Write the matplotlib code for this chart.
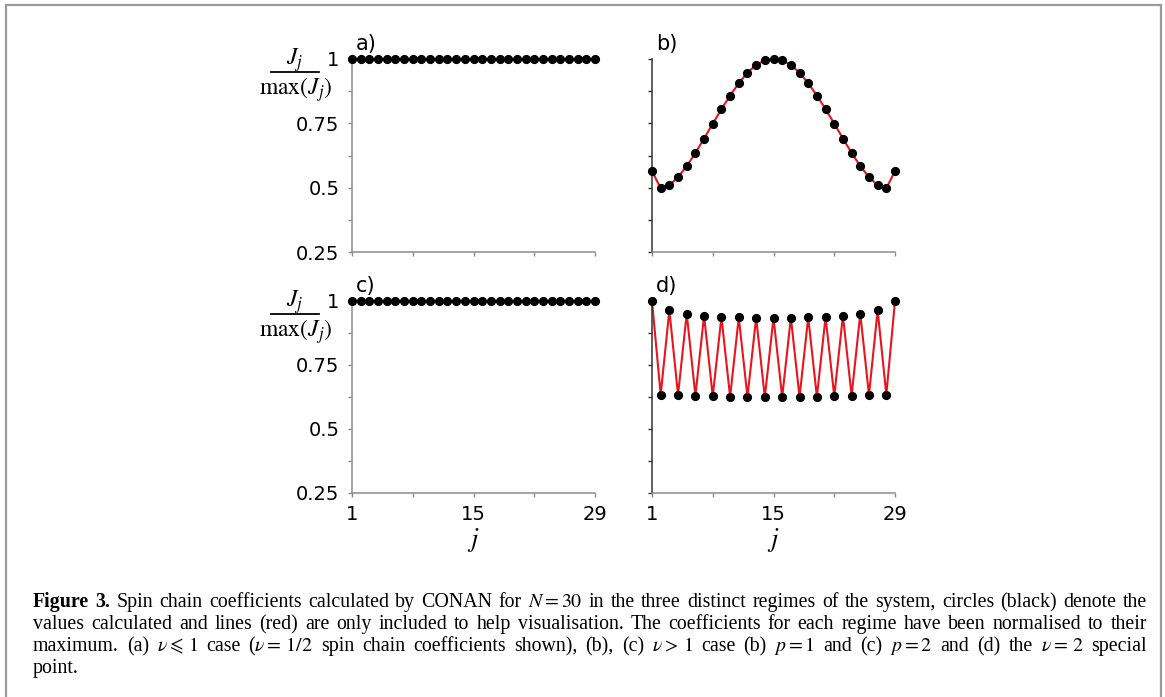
import numpy as np
import matplotlib
matplotlib.use("Agg")
import matplotlib.pyplot as plt
from matplotlib.patches import Rectangle
from matplotlib.lines import Line2D

plt.rcParams['mathtext.fontset'] = 'stix'
plt.rcParams['font.family'] = ['DejaVu Sans']

W, H = 1165, 697
#------------------------------ data
j = np.arange(1, 30)
Ja = [1.0] * 29                                   # nu <= 1 case
Jb = [0.565, 0.497, 0.509, 0.541, 0.584, 0.635, 0.691, 0.749, 0.805, 0.858,
      0.906, 0.947, 0.977, 0.995, 1.0, 0.995, 0.977, 0.947, 0.906, 0.858,
      0.805, 0.749, 0.691, 0.635, 0.584, 0.541, 0.509, 0.497, 0.565]   # p = 1
Jc = [1.0] * 29                                   # p = 2
Jd = [1.0, 0.634, 0.964, 0.633, 0.951, 0.630, 0.943, 0.628, 0.938, 0.626,
      0.936, 0.625, 0.935, 0.624, 0.935, 0.624, 0.935, 0.625, 0.936, 0.626,
      0.938, 0.628, 0.943, 0.630, 0.951, 0.633, 0.964, 0.634, 1.0]     # nu = 2

xticks = [1, 8, 15, 22, 29]
xlabels = ['1', '', '15', '', '29']
yticks = [0.25, 0.5, 0.75, 1]
ylabels = ['0.25', '0.5', '0.75', '1']
yminor = [0.375, 0.625, 0.875]

caption = [
    ["Figure", "3.", "Spin", "chain", "coefficients", "calculated", "by", "CONAN", "for",
     r"$N=30$", "in", "the", "three", "distinct", "regimes", "of", "the", "system,",
     "circles", "(black)", "denote", "the"],
    ["values", "calculated", "and", "lines", "(red)", "are", "only", "included", "to", "help",
     "visualisation.", "The", "coefficients", "for", "each", "regime", "have", "been",
     "normalised", "to", "their"],
    ["maximum.", "(a)", r"$\nu\leqslant\,1$", "case", r"($\nu=\,1/2$", "spin", "chain",
     "coefficients", "shown),", "(b),", "(c)", r"$\nu>\,1$", "case", "(b)", r"$p=1$", "and",
     "(c)", r"$p=2$", "and", "(d)", "the", r"$\nu=\,2$", "special"],
    ["point."],
]
#------------------------------
def fx(px): return px / W
def fy(py): return 1 - py / H

fig = plt.figure(figsize=(W / 100, H / 100), dpi=100)

gray = '#8c8c8c'
dark = '#333333'
red = '#e8141e'

boxes = {'a': (352, 59, 595, 252), 'b': (652, 59, 895, 252),
         'c': (352, 301, 595, 493), 'd': (652, 301, 895, 493)}
data = {'a': Ja, 'b': Jb, 'c': Jc, 'd': Jd}

for key, (x0, y0, x1, y1) in boxes.items():
    ax = fig.add_axes([fx(x0), fy(y1), fx(x1) - fx(x0), fy(y0) - fy(y1)])
    ax.plot(j, data[key], '-', color=red, lw=1.5, clip_on=False, zorder=2)
    ax.plot(j, data[key], 'o', color='black', ms=5.6, clip_on=False, zorder=3)
    ax.set_xlim(1, 29)
    ax.set_ylim(0.25, 1)
    for s in ['top', 'right']:
        ax.spines[s].set_visible(False)
    left_col = key in 'ac'
    lc = gray if left_col else dark
    ax.spines['left'].set_color(lc)
    ax.spines['bottom'].set_color(gray)
    ax.spines['left'].set_linewidth(1.1)
    ax.spines['bottom'].set_linewidth(1.1)
    ax.set_xticks(xticks)
    ax.set_yticks(yticks)
    ax.set_yticks(yminor, minor=True)
    ax.tick_params(axis='x', colors=gray, length=3, width=1, labelsize=14,
                   labelcolor='black', pad=6)
    ax.tick_params(axis='y', which='both', colors=lc, length=3, width=1,
                   labelsize=14, labelcolor='black', pad=6)
    ax.set_xticklabels(xlabels if key in 'cd' else [''] * 5)
    ax.set_yticklabels(ylabels if left_col else [''] * 4)
    ax.text(fx(x0 + 4), fy(y0 - 9), key + ')', transform=fig.transFigure,
            fontsize=15, va='baseline', ha='left')
    if left_col:
        # hand-built fraction J_j / max(J_j)
        fig.text(fx(295), fy(y0 + 6), r'$J_j$', fontsize=17,
                 ha='center', va='baseline')
        fig.lines.append(Line2D([fx(271), fx(319)], [fy(y0 + 13), fy(y0 + 13)],
                                transform=fig.transFigure, color='black', lw=1.3))
        fig.text(fx(296), fy(y0 + 36), r'$\max(J_j)$', fontsize=17,
                 ha='center', va='baseline')
    if key in 'cd':
        fig.text(fx((x0 + x1) / 2), fy(546), r'$j$', fontsize=19,
                 ha='center', va='baseline')

# caption, fully justified
renderer = fig.canvas.get_renderer()
cx0, cx1 = 33, 1147
for li, words in enumerate(caption):
    yb = 607 + 22 * li
    texts = []
    for wi, w in enumerate(words):
        bold = (li == 0 and wi < 2)
        t = fig.text(0, fy(yb), w, fontsize=14.3, family='Liberation Serif',
                     weight='bold' if bold else 'normal', va='baseline', ha='left')
        texts.append(t)
    widths = [t.get_window_extent(renderer).width for t in texts]
    if li < len(caption) - 1:
        gap = (cx1 - cx0 - sum(widths)) / (len(words) - 1)
    else:
        gap = 4
    x = cx0
    for t, w in zip(texts, widths):
        t.set_x(fx(x))
        x += w + gap

fig.patches.append(Rectangle((fx(6), fy(720)), fx(1161) - fx(6), fy(5) - fy(720),
                             transform=fig.transFigure, fill=False,
                             edgecolor='#9a9a9a', lw=1.6))

fig.savefig('out.png', dpi=100)
